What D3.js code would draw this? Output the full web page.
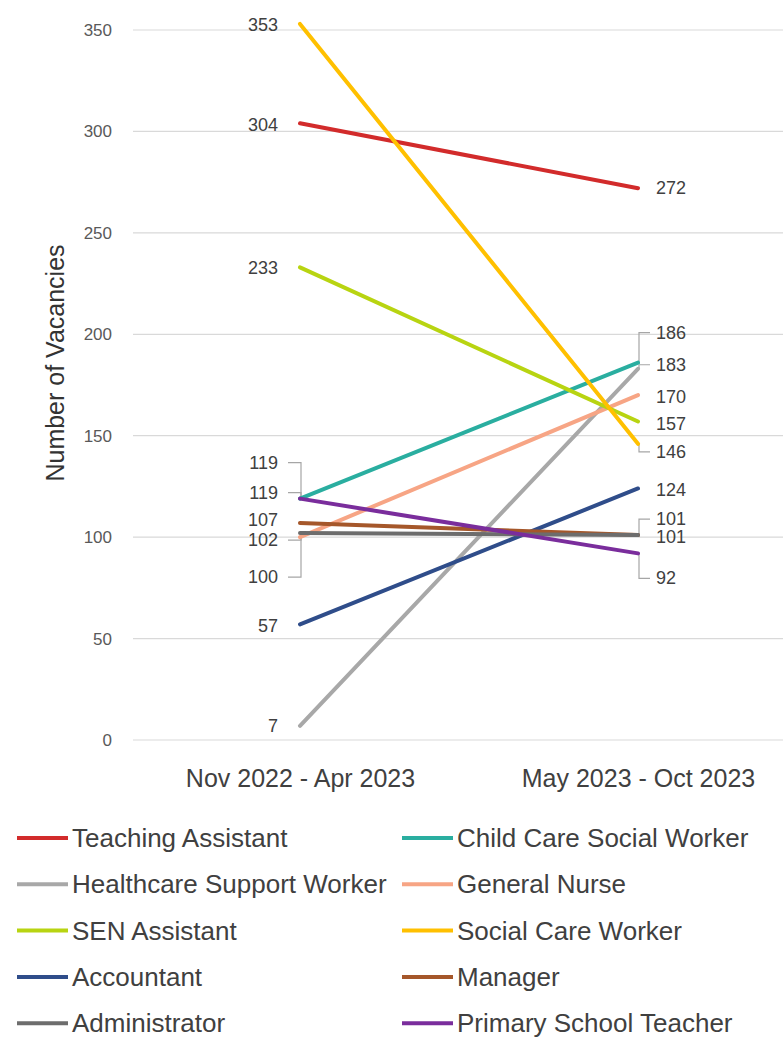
<!DOCTYPE html>
<html><head><meta charset="utf-8">
<script src="https://cdn.jsdelivr.net/npm/d3@7"></script>
<style>
body{margin:0;background:#fff;}
svg text{font-family:"Liberation Sans",Arial,sans-serif;}
</style></head>
<body><svg id="c" width="783" height="1038"></svg>
<script>
const periods = ["Nov 2022 - Apr 2023", "May 2023 - Oct 2023"];
const seriesNames = ["Teaching Assistant","Child Care Social Worker","Healthcare Support Worker","General Nurse","SEN Assistant","Social Care Worker","Accountant","Manager","Administrator","Primary School Teacher"];
const startValues = [304, 119, 7, 100, 233, 353, 57, 107, 102, 119];
const endValues   = [272, 186, 183, 170, 157, 146, 124, 101, 101, 92];
const yTicks = [0, 50, 100, 150, 200, 250, 300, 350];
const colors = ["#d22b2b","#2aaea0","#a8a8a8","#f7a585","#b8d411","#ffc000","#2f4d8a","#a5572a","#6d6d6d","#7a2d9c"];
// label pixel offsets (layout only)
const leftLabelDy  = [2, -36, 0, 40, 1, 1, 2, -3, 7, -6];
const rightLabelDy = [0, -30, -4, 2, 2, 8, 2, -16, 2, 25];

const FONT = '"Liberation Sans",Arial,sans-serif';
const svg = d3.select("#c");
const x = d3.scalePoint().domain(periods).range([131, 807]).padding(0.5);
const y = d3.scaleLinear().domain([0, 350]).range([740, 30]);

// gridlines
svg.append("g").selectAll("line").data(yTicks).join("line")
  .attr("x1", 133).attr("x2", 783)
  .attr("y1", d => y(d)).attr("y2", d => y(d))
  .attr("stroke", "#d9d9d9").attr("stroke-width", 1.2);

// y axis tick labels
const yAxis = d3.axisLeft(y).tickValues(yTicks).tickSize(0).tickPadding(0);
const ga = svg.append("g").attr("transform", "translate(112,0)").call(yAxis);
ga.select(".domain").remove();
ga.selectAll("text").attr("font-size", 17).attr("fill", "#595959").style("font-family", FONT);

// y title
svg.append("text").attr("transform", "translate(55,363) rotate(-90)")
  .attr("text-anchor", "middle").attr("dominant-baseline", "central")
  .attr("font-size", 25).attr("fill", "#333333")
  .text("Number of Vacancies");

// x axis labels
const xAxis = d3.axisBottom(x).tickSize(0).tickPadding(0);
const gx = svg.append("g").attr("transform", "translate(0,0)").call(xAxis);
gx.select(".domain").remove();
gx.selectAll("text").attr("y", 778).attr("dy", null).attr("dominant-baseline", "central")
  .attr("font-size", 25).attr("fill", "#404040").style("font-family", FONT);

const data = seriesNames.map((n, i) => ({name: n, v: [startValues[i], endValues[i]], c: colors[i], i}));
const line = d3.line().x((d, k) => x(periods[k])).y(d => y(d));

// leader lines
const xl = x(periods[0]), xr = x(periods[1]);
const leaders = svg.append("g").attr("fill", "none").attr("stroke", "#a6a6a6").attr("stroke-width", 1.2);
data.forEach(d => {
  const dl = leftLabelDy[d.i];
  if (Math.abs(dl) > 4) {
    const py = y(d.v[0]), ly = py + dl;
    leaders.append("path").attr("d", `M${xl-12},${ly}H${xl+1}V${py}`);
  }
  const dr = rightLabelDy[d.i];
  if (Math.abs(dr) > 3) {
    const py = y(d.v[1]), ly = py + dr;
    leaders.append("path").attr("d", `M${xr+12},${ly}H${xr+1}V${py}`);
  }
});

// lines
svg.append("g").selectAll("path").data(data).join("path")
  .attr("d", d => line(d.v)).attr("fill", "none")
  .attr("stroke", d => d.c).attr("stroke-width", 4).attr("stroke-linecap", "round");

// data labels
const lab = svg.append("g").attr("font-size", 18).attr("fill", "#404040");
data.forEach(d => {
  lab.append("text").attr("x", xl - 22).attr("y", y(d.v[0]) + leftLabelDy[d.i])
    .attr("text-anchor", "end").attr("dominant-baseline", "central").text(d.v[0]);
  lab.append("text").attr("x", xr + 18).attr("y", y(d.v[1]) + rightLabelDy[d.i])
    .attr("text-anchor", "start").attr("dominant-baseline", "central").text(d.v[1]);
});

// legend
const lg = svg.append("g");
data.forEach((d, k) => {
  const col = k % 2, row = Math.floor(k / 2);
  const lx = col === 0 ? 17 : 402, ly = 838 + row * 46.3;
  lg.append("line").attr("x1", lx).attr("x2", lx + 51).attr("y1", ly).attr("y2", ly)
    .attr("stroke", d.c).attr("stroke-width", 4);
  lg.append("text").attr("x", lx + (col === 0 ? 55 : 55)).attr("y", ly).attr("dominant-baseline", "central")
    .attr("font-size", 26).attr("fill", "#404040").text(d.name);
});
</script></body></html>
